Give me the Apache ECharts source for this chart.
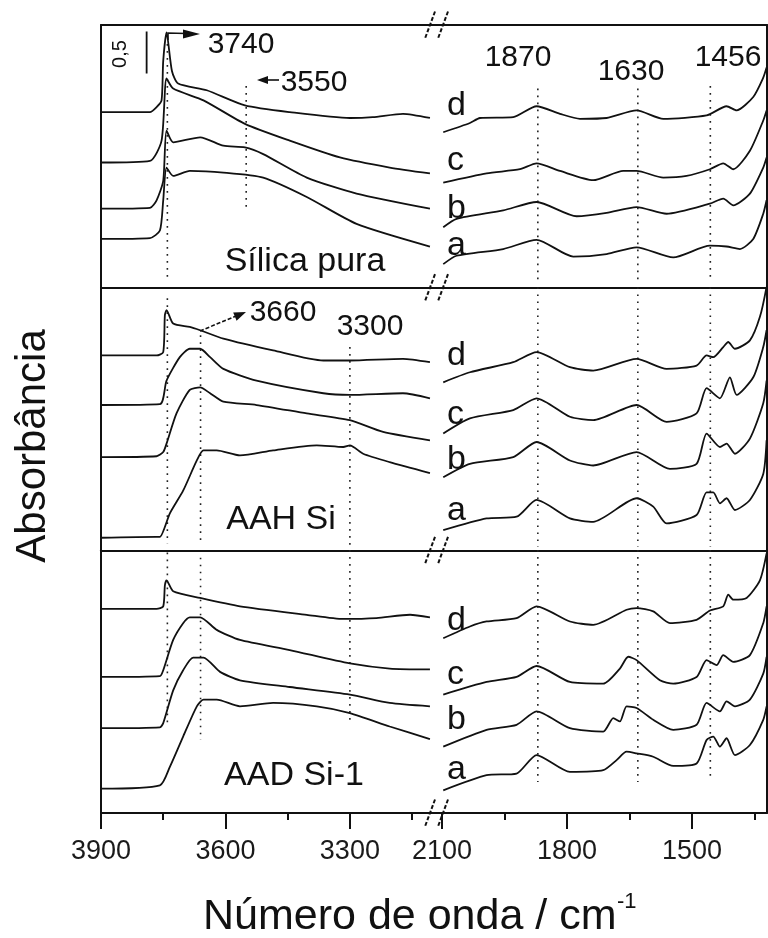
<!DOCTYPE html>
<html><head><meta charset="utf-8">
<script src="https://cdn.jsdelivr.net/npm/echarts@6/dist/echarts.min.js"></script>
<style>html,body{margin:0;padding:0;background:#fff}#c{width:768px;height:938px}</style>
</head><body><div id="c"></div>
<script>
// ---------- DATA (wavenumber / cm-1, absorbance incl. vertical offset) ----------
// Panel 1: Sílica pura
const sil_a_hi = [[3900,0.58],[3782,0.59],[3758,0.68],[3750,1.04],[3742,1.43],[3726,1.33],[3686,1.39],[3605,1.37],[3509,1.31],[3404,1.08],[3284,0.76],[3107,0.49]];
const sil_b_hi = [[3900,0.94],[3782,0.95],[3766,1.04],[3750,1.27],[3742,1.87],[3726,1.73],[3661,1.79],[3605,1.69],[3553,1.67],[3509,1.59],[3404,1.31],[3284,1.12],[3107,0.94]];
const sil_c_hi = [[3900,1.49],[3782,1.51],[3754,1.75],[3742,2.49],[3726,2.37],[3653,2.23],[3553,1.95],[3445,1.75],[3324,1.55],[3204,1.43],[3107,1.36]];
const sil_d_hi = [[3900,2.09],[3782,2.09],[3766,2.15],[3754,2.23],[3750,2.70],[3742,3.04],[3729,2.58],[3714,2.43],[3645,2.35],[3553,2.17],[3445,2.09],[3300,2.02],[3245,2.03],[3172,2.07],[3107,2.02]];
const sil_a_lo = [[2097,0.28],[2065,0.38],[1953,0.46],[1873,0.57],[1785,0.37],[1705,0.40],[1633,0.48],[1545,0.36],[1457,0.50],[1417,0.49],[1385,0.46],[1353,0.58],[1329,0.88],[1321,1.04]];
const sil_b_lo = [[2097,0.72],[2065,0.82],[1953,0.92],[1873,1.02],[1777,0.85],[1705,0.89],[1633,0.96],[1561,0.88],[1457,1.00],[1425,1.06],[1401,0.98],[1361,1.12],[1329,1.43],[1321,1.55]];
const sil_c_lo = [[2097,1.25],[1993,1.36],[1913,1.41],[1873,1.48],[1817,1.39],[1737,1.28],[1665,1.39],[1633,1.39],[1569,1.31],[1513,1.33],[1457,1.41],[1425,1.48],[1401,1.41],[1361,1.63],[1329,1.99],[1321,2.11]];
const sil_d_lo = [[2097,1.85],[2033,1.96],[2009,2.02],[1929,2.03],[1873,2.16],[1817,2.07],[1769,2.01],[1705,2.02],[1633,2.11],[1569,2.01],[1465,2.05],[1417,2.16],[1393,2.11],[1353,2.27],[1329,2.50],[1321,2.62]];
// Panel 2: AAH Si
const aah_a_hi = [[3900,0.15],[3766,0.16],[3758,0.16],[3734,0.44],[3702,0.71],[3669,1.07],[3653,1.19],[3621,1.19],[3565,1.13],[3485,1.19],[3380,1.25],[3316,1.23],[3300,1.25],[3268,1.15],[3204,1.05],[3107,0.92]];
const aah_b_hi = [[3900,1.11],[3766,1.12],[3750,1.17],[3742,1.27],[3718,1.63],[3686,1.91],[3661,1.94],[3637,1.87],[3605,1.77],[3525,1.73],[3404,1.63],[3300,1.55],[3220,1.41],[3107,1.31]];
const aah_c_hi = [[3900,1.73],[3758,1.74],[3742,2.02],[3710,2.30],[3686,2.40],[3661,2.40],[3637,2.30],[3605,2.16],[3525,2.02],[3364,1.87],[3300,1.85],[3172,1.87],[3107,1.81]];
const aah_d_hi = [[3900,2.32],[3766,2.32],[3750,2.36],[3746,2.80],[3742,2.86],[3726,2.70],[3686,2.66],[3661,2.62],[3605,2.52],[3485,2.38],[3364,2.26],[3300,2.26],[3172,2.28],[3107,2.24]];
const aah_a_lo = [[2097,0.24],[1993,0.38],[1921,0.40],[1873,0.60],[1793,0.38],[1737,0.34],[1633,0.62],[1593,0.52],[1561,0.32],[1489,0.42],[1465,0.69],[1449,0.69],[1433,0.56],[1417,0.62],[1397,0.48],[1361,0.60],[1329,0.91],[1321,1.31]];
const aah_b_lo = [[2097,0.87],[2033,1.03],[1929,1.11],[1873,1.29],[1793,1.07],[1737,1.01],[1633,1.17],[1553,0.97],[1489,1.03],[1465,1.39],[1433,1.23],[1417,1.27],[1397,1.15],[1361,1.33],[1329,1.75],[1321,2.02]];
const aah_c_lo = [[2097,1.39],[2033,1.57],[1929,1.67],[1873,1.81],[1793,1.59],[1737,1.55],[1633,1.73],[1561,1.53],[1489,1.63],[1465,1.93],[1433,1.81],[1409,2.06],[1393,1.85],[1353,2.06],[1329,2.42],[1321,2.62]];
const aah_d_lo = [[2097,2.00],[2033,2.12],[1929,2.24],[1873,2.36],[1793,2.18],[1737,2.14],[1633,2.28],[1561,2.16],[1489,2.20],[1465,2.32],[1449,2.30],[1425,2.42],[1413,2.48],[1397,2.40],[1361,2.50],[1337,2.78],[1321,3.14]];
// Panel 3: AAD Si-1
const aad_a_hi = [[3900,0.29],[3758,0.33],[3734,0.55],[3702,0.91],[3669,1.27],[3653,1.35],[3621,1.35],[3565,1.27],[3485,1.31],[3380,1.27],[3300,1.19],[3204,1.03],[3107,0.88]];
const aad_b_hi = [[3900,1.01],[3758,1.02],[3750,1.07],[3726,1.46],[3702,1.70],[3678,1.85],[3653,1.85],[3613,1.68],[3565,1.58],[3445,1.50],[3300,1.41],[3204,1.31],[3107,1.27]];
const aad_c_hi = [[3900,1.62],[3758,1.63],[3750,1.70],[3726,2.06],[3702,2.26],[3686,2.33],[3661,2.33],[3621,2.18],[3565,2.06],[3445,1.94],[3300,1.78],[3204,1.72],[3107,1.71]];
const aad_d_hi = [[3900,2.43],[3766,2.43],[3750,2.46],[3746,2.71],[3742,2.77],[3726,2.64],[3661,2.56],[3565,2.46],[3404,2.36],[3316,2.31],[3236,2.32],[3155,2.36],[3107,2.33]];
const aad_a_lo = [[2097,0.27],[1993,0.45],[1921,0.47],[1873,0.69],[1793,0.49],[1713,0.51],[1681,0.63],[1657,0.73],[1633,0.71],[1593,0.67],[1545,0.56],[1489,0.59],[1465,0.87],[1449,0.91],[1433,0.79],[1417,0.89],[1397,0.69],[1361,0.81],[1329,1.11],[1321,1.27]];
const aad_b_lo = [[2097,0.79],[1993,0.99],[1921,1.05],[1873,1.21],[1793,1.01],[1713,0.97],[1689,1.13],[1673,1.09],[1657,1.27],[1633,1.25],[1593,1.11],[1545,0.99],[1489,1.05],[1465,1.31],[1433,1.21],[1417,1.33],[1397,1.27],[1361,1.35],[1329,1.66],[1321,1.86]];
const aad_c_lo = [[2097,1.41],[1993,1.56],[1921,1.62],[1873,1.75],[1793,1.56],[1713,1.54],[1673,1.72],[1653,1.86],[1633,1.82],[1577,1.58],[1545,1.54],[1489,1.62],[1465,1.82],[1441,1.76],[1425,1.88],[1401,1.80],[1361,1.88],[1329,2.26],[1321,2.46]];
const aad_d_lo = [[2097,2.08],[2033,2.22],[1993,2.28],[1921,2.32],[1873,2.46],[1793,2.28],[1737,2.24],[1657,2.42],[1633,2.44],[1593,2.40],[1553,2.26],[1489,2.30],[1457,2.41],[1425,2.46],[1413,2.60],[1401,2.54],[1369,2.56],[1337,2.77],[1321,3.09]];

// Dotted reference lines: [wavenumber, top absorbance, bottom absorbance]
const sil_marks_hi = [[3740,2.90,0.12],[3550,2.40,0.95]];
const sil_marks_lo = [[1870,2.37,0.05],[1630,2.37,0.05],[1456,2.40,0.08]];
const aah_marks_hi = [[3740,3.00,0.08],[3660,2.56,0.08],[3300,2.42,0.04]];
const aah_marks_lo = [[1870,3.13,0.04],[1630,3.13,0.04],[1456,3.13,0.04]];
const aad_marks_hi = [[3740,3.10,1.02],[3660,3.04,0.87],[3300,3.13,1.08]];
const aad_marks_lo = [[1870,3.13,0.37],[1630,3.13,0.37],[1456,3.13,0.42]];

// Absorbance scale bar (0,5)
const scaleBar = [[3790,3.05],[3790,2.55]];

// Axis ticks
const hiMajor = [3900,3600,3300];
const hiMinor = [3750,3450,3150];
const loMajor = [2100,1800,1500];
const loMinor = [1950,1650,1350];
const hiRange = [3090,3900];
const loRange = [1320,2112];
const yRange = [0,3.127];

const panelNames = ['Sílica pura','AAH Si','AAD Si-1'];
const traceLetters = ['a','b','c','d'];

// ---------- LAYOUT ----------
const FONT = '"Liberation Sans", Arial, sans-serif';
const INK = '#111';
const TOP = 25, PH = 262.67, XL = 101, XB = 437, XR = 767;

const panels = [
  {hi:[sil_a_hi,sil_b_hi,sil_c_hi,sil_d_hi], lo:[sil_a_lo,sil_b_lo,sil_c_lo,sil_d_lo], mHi:sil_marks_hi, mLo:sil_marks_lo},
  {hi:[aah_a_hi,aah_b_hi,aah_c_hi,aah_d_hi], lo:[aah_a_lo,aah_b_lo,aah_c_lo,aah_d_lo], mHi:aah_marks_hi, mLo:aah_marks_lo},
  {hi:[aad_a_hi,aad_b_hi,aad_c_hi,aad_d_hi], lo:[aad_a_lo,aad_b_lo,aad_c_lo,aad_d_lo], mHi:aad_marks_hi, mLo:aad_marks_lo}
];

const grid = [], xAxis = [], yAxis = [], series = [];
const axLine = {show:true, onZero:false, lineStyle:{color:INK, width:2}};

for (let p = 0; p < 3; p++) {
  for (let s = 0; s < 2; s++) {
    const g = p*2+s;
    const isBottom = p === 2;
    const range = s === 0 ? hiRange : loRange;
    grid.push({left: s===0 ? XL : XB, width: s===0 ? XB-XL : XR-XB, top: TOP + p*PH, height: PH,
      containLabel:false, outerBoundsMode:'none'});
    xAxis.push({type:'value', gridIndex:g, min:range[0], max:range[1], inverse:true, position:'bottom',
      axisLine: axLine,
      axisTick:{show:isBottom, customValues: s===0 ? hiMajor : loMajor, length:16, lineStyle:{color:INK, width:2}},
      axisLabel:{show:isBottom, customValues: s===0 ? hiMajor : loMajor, margin:25, fontSize:27, fontFamily:FONT, color:'#1a1a1a',
        formatter: v => String(v)},
      splitLine:{show:false}});
    yAxis.push({type:'value', gridIndex:g, min:yRange[0], max:yRange[1], position: s===0 ? 'left' : 'right',
      axisLine: axLine, axisTick:{show:false}, axisLabel:{show:false}, splitLine:{show:false}});
  }
}
// top frame line (panel 1)
for (let s = 0; s < 2; s++) {
  const range = s === 0 ? hiRange : loRange;
  xAxis.push({type:'value', gridIndex:s, min:range[0], max:range[1], inverse:true, position:'top',
    axisLine: axLine, axisTick:{show:false}, axisLabel:{show:false}, splitLine:{show:false}});
}
// minor ticks on bottom axis
for (let s = 0; s < 2; s++) {
  const range = s === 0 ? hiRange : loRange;
  xAxis.push({type:'value', gridIndex:4+s, min:range[0], max:range[1], inverse:true, position:'bottom',
    axisLine:{show:false, onZero:false},
    axisTick:{show:true, customValues: s===0 ? hiMinor : loMinor, length:7, lineStyle:{color:INK, width:2}},
    axisLabel:{show:false}, splitLine:{show:false}});
}

panels.forEach((pd, p) => {
  [[pd.hi, pd.mHi], [pd.lo, pd.mLo]].forEach(([specs, marks], s) => {
    const idx = p*2+s;
    marks.forEach(m => series.push({type:'line', xAxisIndex:idx, yAxisIndex:idx,
      data:[[m[0],m[1]],[m[0],m[2]]], symbol:'none', silent:true, z:2,
      lineStyle:{color:'#222', width:1.6, type:[1.6,5.4]}}));
    specs.forEach((d, k) => series.push({type:'line', name: panelNames[p]+' '+traceLetters[k],
      xAxisIndex:idx, yAxisIndex:idx, data:d, symbol:'none', silent:true, z:3,
      smooth:0.22,
      lineStyle:{color:INK, width:1.8}}));
  });
});
series.push({type:'line', xAxisIndex:0, yAxisIndex:0, data:scaleBar, symbol:'none', silent:true,
  lineStyle:{color:INK, width:1.8}});

// ---------- annotations ----------
function txt(text, x, y, size, align, rot) {
  const el = {type:'text', x:x, y:y, z:10, silent:true,
    style:{text:text, x:0, y:0, font: size+'px '+FONT, fill:INK, textAlign:align||'center', textVerticalAlign:'middle'}};
  if (rot) el.rotation = rot;
  return el;
}
const graphic = [];
graphic.push(txt(panelNames[0], 305, 262, 34));
graphic.push(txt(panelNames[1], 281, 520, 34));
graphic.push(txt(panelNames[2], 294, 776, 34));
const letterY = [[246,209,161,106],[511,460,415,356],[770,720,675,621]];
letterY.forEach(row => row.forEach((y,k) => graphic.push(txt(traceLetters[k], 447, y, 34, 'left'))));
[['3740',241,44.6],['3550',314,82.6],['1870',518,57.6],['1630',631,71.6],['1456',728,57.6],
 ['3660',283,312.6],['3300',370,326.6]].forEach(t => graphic.push(txt(t[0], t[1], t[2], 30)));
graphic.push(txt('0,5', 120, 54, 20, 'center', Math.PI/2));
graphic.push(txt('Absorbância', 33, 446, 42, 'center', Math.PI/2));
graphic.push(txt('Número de onda / cm', 203, 917, 43, 'left'));
graphic.push(txt('-1', 617, 902, 22, 'left'));
graphic.push({type:'polyline', z:10, silent:true, shape:{points:[[168,40],[168,33],[186,33.5]]}, style:{stroke:INK, lineWidth:1.6, fill:null}});
graphic.push({type:'polygon', z:10, silent:true, shape:{points:[[183,29.5],[200,34],[183,38.5]]}, style:{fill:INK}});
graphic.push({type:'line', z:10, silent:true, shape:{x1:266, y1:80, x2:279, y2:80}, style:{stroke:INK, lineWidth:1.6}});
graphic.push({type:'polygon', z:10, silent:true, shape:{points:[[257,80],[268,76],[268,84]]}, style:{fill:INK}});
graphic.push({type:'line', z:10, silent:true, shape:{x1:200, y1:331, x2:236, y2:316}, style:{stroke:INK, lineWidth:1.6, lineDash:[4,2]}});
graphic.push({type:'polygon', z:10, silent:true, shape:{points:[[246,312],[236.6,320.8],[233.2,312.4]]}, style:{fill:INK}});
[TOP, TOP+PH, TOP+2*PH, TOP+3*PH].forEach(y => {
  [-6.5, 6.5].forEach(dx => graphic.push({type:'line', z:11, silent:true,
    shape:{x1:436.5+dx+5, y1:y-13.5, x2:436.5+dx-5, y2:y+13.5},
    style:{stroke:INK, lineWidth:2, lineDash:[4,2]}}));
});

const chart = echarts.init(document.getElementById('c'), null, {renderer:'canvas', width:768, height:938});
chart.setOption({
  animation:false,
  backgroundColor:'#fff',
  grid: grid, xAxis: xAxis, yAxis: yAxis, series: series, graphic: graphic
});
</script>
</body></html>
